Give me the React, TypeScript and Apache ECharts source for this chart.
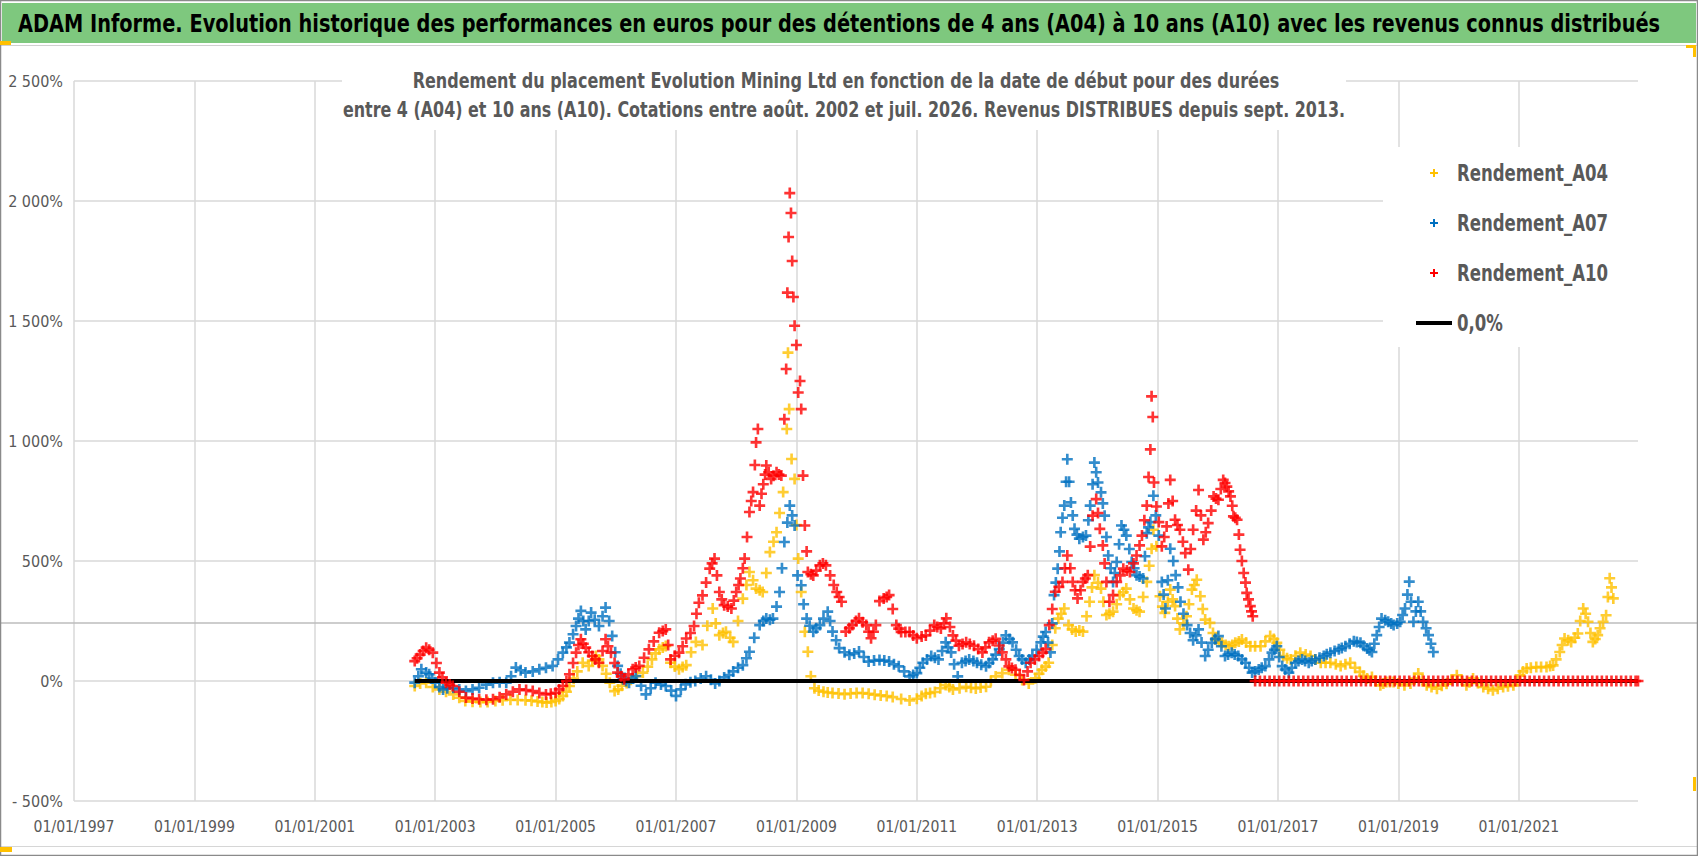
import React, { useEffect, useRef } from 'react';
import * as echarts from 'echarts';

const TITLE =
  'ADAM Informe. Evolution historique des performances en euros pour des détentions de 4 ans (A04) à 10 ans (A10) avec les revenus connus distribués';
const SUBTITLE_1 =
  'Rendement du placement Evolution Mining Ltd en fonction de la date de début pour des durées';
const SUBTITLE_2 =
  'entre 4 (A04) et 10 ans (A10). Cotations entre août. 2002 et juil. 2026. Revenus DISTRIBUES depuis sept. 2013.';

const SERIES_NAMES = ['Rendement_A04', 'Rendement_A07', 'Rendement_A10', '0,0%'];
const SERIES_COLORS = ['#FFC000', '#0070C0', '#FF0000', '#000000'];

// x axis: decimal years, gridlines every 2 years starting 01/01/1997
const X_MIN = 1997;
const X_MAX = 2022.98;
const X_INTERVAL = 2;
// y axis in percent
const Y_MIN = -500;
const Y_MAX = 2500;
const Y_INTERVAL = 500;

// [start date (decimal year), return %]
const a04: [number, number][] = [
  [2002.66, -21], [2002.75, -10], [2002.85, -7], [2002.96, -25], [2003.07, -35], [2003.18, -45],
  [2003.3, -56], [2003.4, -70], [2003.5, -83], [2003.62, -86], [2003.75, -88], [2003.87, -87],
  [2004.0, -83], [2004.12, -80], [2004.25, -78], [2004.37, -79], [2004.5, -80], [2004.6, -82],
  [2004.7, -85], [2004.78, -88], [2004.85, -90], [2004.93, -87], [2005.0, -83], [2005.06, -75],
  [2005.12, -62], [2005.18, -45], [2005.23, -21], [2005.3, 10], [2005.36, 40], [2005.45, 76],
  [2005.55, 63], [2005.61, 85], [2005.67, 104], [2005.72, 90], [2005.78, 63], [2005.84, 30],
  [2005.9, -7], [2005.98, -42], [2006.04, -35], [2006.1, -20], [2006.18, -8], [2006.25, 5],
  [2006.35, 20], [2006.45, 35], [2006.53, 60], [2006.6, 90], [2006.66, 115], [2006.72, 132],
  [2006.78, 140], [2006.83, 146], [2006.91, 76], [2006.98, 60], [2007.05, 49], [2007.11, 58],
  [2007.17, 66], [2007.25, 120], [2007.33, 163], [2007.44, 150], [2007.52, 230], [2007.61, 302],
  [2007.66, 240], [2007.72, 191], [2007.78, 200], [2007.83, 205], [2007.9, 180], [2007.95, 163],
  [2008.03, 250], [2008.11, 343], [2008.17, 400], [2008.22, 454], [2008.28, 420], [2008.33, 385],
  [2008.39, 378], [2008.44, 371], [2008.5, 450], [2008.56, 537], [2008.62, 580], [2008.67, 620],
  [2008.72, 700], [2008.78, 787], [2008.84, 1050], [2008.86, 1368], [2008.88, 1133], [2008.92, 925],
  [2008.97, 842], [2009.0, 650], [2009.03, 510], [2009.08, 371], [2009.14, 205], [2009.19, 122],
  [2009.24, 20], [2009.3, -30], [2009.37, -40], [2009.45, -45], [2009.52, -48], [2009.6, -50],
  [2009.7, -52], [2009.8, -55], [2009.9, -52], [2010.0, -50], [2010.1, -50], [2010.2, -53],
  [2010.3, -57], [2010.4, -60], [2010.5, -63], [2010.6, -67], [2010.74, -75], [2010.88, -81],
  [2011.0, -74], [2011.08, -63], [2011.15, -53], [2011.22, -50], [2011.3, -46], [2011.39, -30],
  [2011.48, -17], [2011.54, -25], [2011.6, -35], [2011.71, -30], [2011.82, -24], [2011.9, -28],
  [2011.98, -31], [2012.06, -27], [2012.15, -24], [2012.23, 0], [2012.31, 19], [2012.42, 33],
  [2012.53, 47], [2012.64, 26], [2012.75, 4], [2012.86, -10], [2012.97, 11], [2013.03, 30],
  [2013.08, 47], [2013.14, 60], [2013.19, 76], [2013.25, 150], [2013.3, 220], [2013.35, 260],
  [2013.4, 280], [2013.45, 302], [2013.52, 233], [2013.58, 215], [2013.64, 206], [2013.7, 210],
  [2013.76, 206], [2013.82, 270], [2013.87, 330], [2013.91, 390], [2013.95, 441], [2014.01, 410],
  [2014.06, 385], [2014.1, 330], [2014.15, 275], [2014.2, 280], [2014.26, 289], [2014.32, 320],
  [2014.37, 358], [2014.43, 370], [2014.48, 385], [2014.54, 340], [2014.6, 302], [2014.65, 295],
  [2014.7, 289], [2014.76, 350], [2014.82, 413], [2014.86, 480], [2014.9, 551], [2014.93, 630],
  [2014.98, 561], [2015.04, 353], [2015.08, 310], [2015.12, 284], [2015.17, 330], [2015.21, 381],
  [2015.25, 340], [2015.29, 312], [2015.33, 260], [2015.37, 215], [2015.43, 240], [2015.48, 270],
  [2015.52, 320], [2015.57, 381], [2015.61, 400], [2015.65, 422], [2015.71, 353], [2015.75, 300],
  [2015.79, 256], [2015.87, 242], [2015.92, 200], [2015.96, 173], [2016.02, 165], [2016.07, 159],
  [2016.13, 150], [2016.18, 145], [2016.24, 150], [2016.29, 159], [2016.35, 165], [2016.4, 173],
  [2016.47, 160], [2016.54, 145], [2016.62, 145], [2016.71, 145], [2016.79, 165], [2016.87, 187],
  [2016.93, 175], [2016.98, 159], [2017.03, 130], [2017.09, 104], [2017.15, 95], [2017.21, 90],
  [2017.29, 105], [2017.37, 118], [2017.46, 110], [2017.54, 104], [2017.62, 90], [2017.71, 76],
  [2017.79, 76], [2017.87, 76], [2017.96, 70], [2018.04, 62], [2018.12, 70], [2018.2, 76],
  [2018.28, 55], [2018.36, 38], [2018.42, 22], [2018.48, 10], [2018.56, 17], [2018.62, 0],
  [2018.7, -18], [2018.75, -10], [2018.8, -4], [2018.86, -4], [2018.92, -4], [2019.0, -10],
  [2019.1, -18], [2019.2, -10], [2019.27, 10], [2019.33, 31], [2019.4, 5], [2019.47, -18],
  [2019.55, -25], [2019.64, -32], [2019.72, -20], [2019.8, -11], [2019.88, 5], [2019.97, 24],
  [2020.05, 5], [2020.13, -18], [2020.18, -5], [2020.24, 10], [2020.32, -8], [2020.41, -25],
  [2020.49, -32], [2020.57, -39], [2020.65, -32], [2020.74, -25], [2020.82, -22], [2020.91, -18],
  [2020.97, 0], [2021.02, 24], [2021.07, 40], [2021.13, 52], [2021.2, 55], [2021.29, 58],
  [2021.37, 58], [2021.46, 58], [2021.52, 62], [2021.57, 65], [2021.62, 90], [2021.68, 121],
  [2021.72, 150], [2021.76, 177], [2021.82, 170], [2021.87, 163], [2021.93, 180], [2021.98, 198],
  [2022.02, 250], [2022.07, 302], [2022.11, 280], [2022.15, 247], [2022.19, 200], [2022.23, 163],
  [2022.27, 175], [2022.31, 191], [2022.35, 220], [2022.4, 247], [2022.45, 274], [2022.48, 350],
  [2022.51, 428], [2022.54, 390], [2022.57, 344],
];

const a07: [number, number][] = [
  [2002.66, -7], [2002.72, 20], [2002.77, 49], [2002.85, 35], [2002.9, 28], [2002.95, 10],
  [2003.0, -7], [2003.07, -25], [2003.13, -35], [2003.2, -30], [2003.3, -28], [2003.4, -35],
  [2003.51, -42], [2003.62, -35], [2003.73, -28], [2003.85, -15], [2003.96, -7], [2004.07, -5],
  [2004.18, -7], [2004.26, 20], [2004.34, 56], [2004.42, 45], [2004.5, 35], [2004.62, 40],
  [2004.73, 49], [2004.84, 55], [2004.95, 63], [2005.04, 90], [2005.12, 118], [2005.18, 140],
  [2005.23, 160], [2005.29, 195], [2005.34, 229], [2005.38, 260], [2005.42, 292], [2005.46, 250],
  [2005.5, 215], [2005.55, 250], [2005.59, 285], [2005.65, 255], [2005.72, 229], [2005.78, 270],
  [2005.83, 306], [2005.89, 250], [2005.94, 188], [2005.99, 120], [2006.03, 63], [2006.08, 30],
  [2006.12, 7], [2006.17, 0], [2006.22, -7], [2006.28, 10], [2006.33, 21], [2006.42, -20],
  [2006.5, -56], [2006.58, -30], [2006.66, -7], [2006.75, -15], [2006.83, -21], [2006.92, -40],
  [2007.0, -62], [2007.08, -35], [2007.16, -14], [2007.24, -5], [2007.32, 0], [2007.41, 10],
  [2007.5, 20], [2007.58, 5], [2007.65, -10], [2007.72, 0], [2007.8, 15], [2007.88, 25],
  [2007.95, 40], [2008.03, 55], [2008.11, 66], [2008.17, 95], [2008.22, 122], [2008.3, 180],
  [2008.39, 233], [2008.45, 250], [2008.5, 260], [2008.56, 255], [2008.61, 260], [2008.67, 310],
  [2008.72, 371], [2008.76, 470], [2008.8, 579], [2008.85, 660], [2008.89, 731], [2008.93, 690],
  [2008.97, 648], [2009.02, 440], [2009.08, 399], [2009.12, 320], [2009.17, 260], [2009.22, 230],
  [2009.28, 205], [2009.33, 220], [2009.39, 233], [2009.45, 260], [2009.52, 289], [2009.56, 250],
  [2009.6, 206], [2009.66, 170], [2009.71, 137], [2009.8, 120], [2009.88, 109], [2009.96, 115],
  [2010.04, 123], [2010.12, 100], [2010.2, 81], [2010.29, 85], [2010.38, 88], [2010.46, 85],
  [2010.54, 81], [2010.62, 70], [2010.7, 61], [2010.79, 40], [2010.88, 19], [2010.94, 25],
  [2011.0, 33], [2011.05, 55], [2011.1, 76], [2011.17, 90], [2011.24, 104], [2011.3, 97],
  [2011.36, 90], [2011.42, 125], [2011.48, 161], [2011.52, 140], [2011.57, 119], [2011.62, 70],
  [2011.68, 19], [2011.75, 76], [2011.81, 83], [2011.87, 90], [2011.94, 83], [2012.0, 76],
  [2012.07, 68], [2012.15, 61], [2012.2, 75], [2012.26, 90], [2012.31, 110], [2012.37, 133],
  [2012.43, 160], [2012.48, 190], [2012.54, 175], [2012.59, 161], [2012.65, 130], [2012.7, 104],
  [2012.75, 90], [2012.81, 76], [2012.87, 90], [2012.92, 104], [2012.99, 130], [2013.06, 161],
  [2013.1, 185], [2013.14, 204], [2013.18, 160], [2013.22, 119], [2013.25, 240], [2013.28, 358],
  [2013.31, 410], [2013.34, 468], [2013.37, 540], [2013.39, 620], [2013.42, 680], [2013.45, 731],
  [2013.48, 830], [2013.5, 924], [2013.53, 830], [2013.56, 744], [2013.59, 690], [2013.62, 634],
  [2013.66, 610], [2013.7, 593], [2013.76, 600], [2013.81, 606], [2013.85, 670], [2013.88, 731],
  [2013.92, 820], [2013.95, 910], [2013.98, 870], [2014.01, 827], [2014.06, 786], [2014.09, 740],
  [2014.12, 689], [2014.15, 600], [2014.18, 523], [2014.22, 470], [2014.26, 413], [2014.29, 450],
  [2014.32, 496], [2014.36, 570], [2014.4, 648], [2014.44, 630], [2014.48, 606], [2014.53, 550],
  [2014.57, 496], [2014.61, 470], [2014.65, 441], [2014.7, 435], [2014.76, 427], [2014.79, 520],
  [2014.82, 616], [2014.85, 640], [2014.88, 662], [2014.93, 772], [2014.97, 690], [2015.02, 606],
  [2015.07, 413], [2015.1, 360], [2015.13, 302], [2015.17, 420], [2015.21, 551], [2015.26, 500],
  [2015.3, 441], [2015.34, 390], [2015.38, 330], [2015.43, 280], [2015.49, 233], [2015.54, 200],
  [2015.59, 170], [2015.64, 190], [2015.68, 215], [2015.73, 160], [2015.79, 104], [2015.84, 130],
  [2015.9, 159], [2015.96, 175], [2016.01, 187], [2016.06, 145], [2016.12, 104], [2016.17, 110],
  [2016.23, 118], [2016.28, 110], [2016.34, 104], [2016.4, 90], [2016.46, 76], [2016.52, 55],
  [2016.57, 35], [2016.62, 40], [2016.68, 48], [2016.73, 55], [2016.79, 62], [2016.85, 90],
  [2016.9, 118], [2016.94, 130], [2016.98, 145], [2017.02, 100], [2017.07, 62], [2017.12, 48],
  [2017.18, 35], [2017.23, 55], [2017.29, 76], [2017.34, 83], [2017.4, 90], [2017.45, 83],
  [2017.51, 76], [2017.56, 83], [2017.62, 90], [2017.69, 97], [2017.76, 104], [2017.81, 111],
  [2017.87, 118], [2017.94, 125], [2018.01, 132], [2018.06, 138], [2018.12, 145], [2018.19, 155],
  [2018.26, 166], [2018.31, 162], [2018.37, 159], [2018.42, 147], [2018.48, 135], [2018.52, 128],
  [2018.56, 121], [2018.6, 155], [2018.64, 191], [2018.68, 225], [2018.72, 260], [2018.78, 253],
  [2018.83, 247], [2018.88, 240], [2018.92, 233], [2018.98, 240], [2019.03, 247], [2019.07, 275],
  [2019.11, 302], [2019.15, 360], [2019.18, 414], [2019.21, 330], [2019.25, 247], [2019.29, 290],
  [2019.33, 330], [2019.37, 290], [2019.41, 247], [2019.46, 220], [2019.5, 191], [2019.54, 155],
  [2019.58, 121],
];

const a10: [number, number][] = [
  [2002.66, 83], [2002.7, 95], [2002.75, 110], [2002.8, 125], [2002.85, 139], [2002.9, 130],
  [2002.96, 118], [2003.02, 75], [2003.07, 35], [2003.12, 15], [2003.18, -7], [2003.24, -15],
  [2003.29, -21], [2003.4, -45], [2003.51, -69], [2003.62, -73], [2003.73, -76], [2003.85, -78],
  [2003.96, -76], [2004.07, -68], [2004.18, -56], [2004.29, -45], [2004.4, -35], [2004.51, -38],
  [2004.62, -42], [2004.73, -50], [2004.84, -56], [2004.92, -53], [2005.0, -49], [2005.06, -35],
  [2005.12, -21], [2005.18, 0], [2005.23, 28], [2005.29, 75], [2005.34, 118], [2005.38, 150],
  [2005.42, 174], [2005.46, 155], [2005.5, 139], [2005.55, 120], [2005.61, 104], [2005.66, 90],
  [2005.72, 76], [2005.78, 125], [2005.83, 174], [2005.87, 145], [2005.92, 118], [2005.98, 75],
  [2006.03, 35], [2006.09, 20], [2006.14, 7], [2006.21, 28], [2006.28, 49], [2006.33, 56],
  [2006.39, 63], [2006.47, 97], [2006.55, 132], [2006.63, 165], [2006.72, 201], [2006.78, 208],
  [2006.83, 215], [2006.87, 150], [2006.91, 90], [2006.98, 105], [2007.05, 118], [2007.11, 145],
  [2007.17, 177], [2007.24, 200], [2007.3, 229], [2007.34, 280], [2007.38, 326], [2007.44, 357],
  [2007.5, 410], [2007.56, 468], [2007.6, 490], [2007.64, 510], [2007.68, 440], [2007.72, 371],
  [2007.76, 340], [2007.8, 316], [2007.86, 310], [2007.92, 302], [2007.96, 335], [2008.0, 371],
  [2008.04, 400], [2008.07, 427], [2008.11, 470], [2008.14, 510], [2008.18, 600], [2008.22, 704],
  [2008.25, 750], [2008.28, 787], [2008.31, 900], [2008.33, 994], [2008.36, 1050], [2008.39, 731],
  [2008.42, 780], [2008.45, 820], [2008.48, 860], [2008.5, 898], [2008.54, 870], [2008.58, 842],
  [2008.62, 855], [2008.67, 870], [2008.71, 860], [2008.75, 856], [2008.8, 1091], [2008.83, 1300],
  [2008.85, 1618], [2008.87, 1850], [2008.89, 2033], [2008.91, 1950], [2008.93, 1750], [2008.95, 1600],
  [2008.97, 1480], [2009.0, 1400], [2009.03, 1202], [2009.06, 1250], [2009.08, 1133], [2009.11, 856],
  [2009.14, 648], [2009.17, 540], [2009.19, 454], [2009.24, 445], [2009.28, 440], [2009.33, 460],
  [2009.39, 482], [2009.44, 490], [2009.49, 482], [2009.56, 440], [2009.62, 400], [2009.67, 371],
  [2009.71, 350], [2009.75, 330], [2009.82, 206], [2009.88, 220], [2009.93, 233], [2009.99, 250],
  [2010.04, 261], [2010.1, 245], [2010.16, 233], [2010.2, 205], [2010.24, 178], [2010.28, 205],
  [2010.32, 233], [2010.38, 333], [2010.45, 344], [2010.5, 350], [2010.54, 358], [2010.6, 300],
  [2010.66, 233], [2010.7, 218], [2010.74, 204], [2010.81, 204], [2010.88, 204], [2010.94, 190],
  [2011.0, 178], [2011.08, 185], [2011.15, 190], [2011.22, 210], [2011.29, 233], [2011.34, 225],
  [2011.4, 219], [2011.45, 240], [2011.49, 261], [2011.55, 225], [2011.6, 190], [2011.65, 168],
  [2011.7, 147], [2011.76, 154], [2011.82, 161], [2011.88, 154], [2011.95, 147], [2012.02, 133],
  [2012.09, 119], [2012.14, 140], [2012.2, 161], [2012.26, 168], [2012.31, 176], [2012.37, 148],
  [2012.42, 119], [2012.48, 90], [2012.53, 61], [2012.58, 54], [2012.64, 47], [2012.71, 25],
  [2012.78, 4], [2012.84, 40], [2012.89, 76], [2012.96, 90], [2013.03, 104], [2013.09, 118],
  [2013.14, 133], [2013.2, 233], [2013.25, 300], [2013.3, 372], [2013.36, 392], [2013.42, 413],
  [2013.46, 470], [2013.5, 523], [2013.55, 470], [2013.59, 413], [2013.63, 378], [2013.67, 344],
  [2013.72, 378], [2013.76, 413], [2013.8, 427], [2013.84, 441], [2013.88, 560], [2013.92, 689],
  [2013.98, 758], [2014.01, 700], [2014.04, 634], [2014.09, 565], [2014.12, 490], [2014.15, 413],
  [2014.2, 330], [2014.26, 358], [2014.32, 413], [2014.38, 440], [2014.43, 468], [2014.49, 460],
  [2014.54, 454], [2014.6, 490], [2014.65, 523], [2014.7, 565], [2014.74, 606], [2014.78, 670],
  [2014.82, 731], [2014.85, 850], [2014.88, 965], [2014.9, 1186], [2014.92, 1100], [2014.94, 827],
  [2014.98, 727], [2015.02, 662], [2015.07, 561], [2015.11, 600], [2015.15, 644], [2015.18, 740],
  [2015.21, 838], [2015.25, 750], [2015.29, 672], [2015.33, 650], [2015.37, 630], [2015.42, 580],
  [2015.46, 533], [2015.51, 464], [2015.55, 550], [2015.59, 630], [2015.64, 710], [2015.68, 796],
  [2015.72, 690], [2015.76, 589], [2015.8, 620], [2015.84, 658], [2015.89, 710], [2015.93, 769],
  [2015.97, 760], [2016.01, 755], [2016.05, 800], [2016.09, 838], [2016.12, 825], [2016.15, 810],
  [2016.18, 790], [2016.21, 769], [2016.24, 730], [2016.26, 686], [2016.29, 680], [2016.32, 672],
  [2016.35, 610], [2016.37, 547], [2016.4, 500], [2016.43, 450], [2016.46, 410], [2016.48, 367],
  [2016.51, 340], [2016.54, 312], [2016.56, 290], [2016.58, 270],
];

// start dates after mid-2016 where A10 is shown at 0 %
const a10ZeroYears: number[] = [
  2016.62, 2016.7, 2016.78, 2016.86, 2016.94, 2017.02, 2017.1, 2017.18, 2017.26, 2017.34,
  2017.42, 2017.5, 2017.58, 2017.66, 2017.74, 2017.82, 2017.9, 2017.98, 2018.06, 2018.14,
  2018.22, 2018.3, 2018.38, 2018.46, 2018.54, 2018.62, 2018.7, 2018.78, 2018.86, 2018.94,
  2019.02, 2019.1, 2019.18, 2019.26, 2019.34, 2019.42, 2019.5, 2019.58, 2019.66, 2019.74,
  2019.82, 2019.9, 2019.98, 2020.06, 2020.14, 2020.22, 2020.3, 2020.38, 2020.46, 2020.54,
  2020.62, 2020.7, 2020.78, 2020.86, 2020.94, 2021.02, 2021.1, 2021.18, 2021.26, 2021.34,
  2021.42, 2021.5, 2021.58, 2021.66, 2021.74, 2021.82, 2021.9, 2021.98, 2022.06, 2022.14,
  2022.22, 2022.3, 2022.38, 2022.46, 2022.54, 2022.62, 2022.7, 2022.78, 2022.86, 2022.94, 2022.98,
];

// the 0,0 % reference line
const zeroLine: [number, number][] = [[2002.66, 0], [2022.98, 0]];

const PLUS = 'path://M3.8,0H6.2V3.8H10V6.2H6.2V10H3.8V6.2H0V3.8H3.8Z';
const FONT = "'DejaVu Sans Condensed', 'Liberation Sans Narrow', 'DejaVu Sans', sans-serif";

function fmtThousands(v: number): string {
  const s = String(Math.abs(v));
  return s.replace(/\B(?=(\d{3})+(?!\d))/g, ' ');
}

function txt(text: string, x: number, y: number, size: number, color: string, align: string, scaleY: number, weight = 'bold') {
  return {
    type: 'text',
    x,
    y,
    scaleY,
    z: 40,
    silent: true,
    style: {
      text,
      x: 0,
      y: 0,
      fill: color,
      fontFamily: FONT,
      fontSize: size,
      fontWeight: weight,
      align,
      textAlign: align,
      verticalAlign: 'middle',
      textVerticalAlign: 'middle',
    },
  };
}

function plusMark(cx: number, cy: number, color: string) {
  return {
    type: 'polygon',
    z: 40,
    silent: true,
    shape: {
      points: [
        [cx - 1, cy - 4], [cx + 1, cy - 4], [cx + 1, cy - 1], [cx + 4, cy - 1], [cx + 4, cy + 1],
        [cx + 1, cy + 1], [cx + 1, cy + 4], [cx - 1, cy + 4], [cx - 1, cy + 1], [cx - 4, cy + 1],
        [cx - 4, cy - 1], [cx - 1, cy - 1],
      ],
    },
    style: { fill: color },
  };
}

export default function App() {
  const ref = useRef<HTMLDivElement>(null);

  useEffect(() => {
    document.body.style.margin = '0';
    if (!ref.current) return;
    const chart = echarts.init(ref.current, undefined, { renderer: 'svg' });

    const a10Data: [number, number][] = [...a10, ...a10ZeroYears.map((y) => [y, 0] as [number, number])];

    const legendRows = [173, 223, 273, 323];

    const option: any = {
      animation: false,
      backgroundColor: '#ffffff',
      textStyle: { fontFamily: FONT },
      grid: { left: 74, right: 60, top: 81, bottom: 55, containLabel: false },
      xAxis: {
        type: 'value',
        min: X_MIN,
        max: X_MAX,
        interval: X_INTERVAL,
        axisLine: { show: false },
        axisTick: { show: false },
        splitLine: { show: true, showMaxLine: false, lineStyle: { color: '#d9d9d9', width: 1.5 } },
        axisLabel: {
          margin: 18,
          showMaxLabel: false,
          fontFamily: FONT,
          fontSize: 15.6,
          color: '#595959',
          formatter: (v: number) => '01/01/' + Math.round(v),
        },
      },
      yAxis: {
        type: 'value',
        min: Y_MIN,
        max: Y_MAX,
        interval: Y_INTERVAL,
        axisLine: { show: false },
        axisTick: { show: false },
        splitLine: { show: true, lineStyle: { color: '#d9d9d9', width: 1.5 } },
        axisLabel: {
          margin: 11,
          fontFamily: FONT,
          fontSize: 16,
          color: '#595959',
          formatter: (v: number) =>
            v === 0 ? '0%' : v < 0 ? '- ' + fmtThousands(v) + '%' : fmtThousands(v) + '%',
        },
      },
      graphic: [
        // title bar
        { type: 'rect', z: 0, silent: true, shape: { x: 2, y: 3, width: 1694, height: 40 }, style: { fill: '#7EC87E' } },
        { type: 'line', z: 0, silent: true, shape: { x1: 1, y1: 45.5, x2: 1697, y2: 45.5 }, style: { stroke: '#d0d0d0', lineWidth: 1 } },
        txt(TITLE, 18, 23, 21.5, '#000000', 'left', 1.18),
        // stray horizontal rule across the chart area
        { type: 'line', z: 1, silent: true, shape: { x1: 1, y1: 623, x2: 1697, y2: 623 }, style: { stroke: '#bdbdbd', lineWidth: 1.5 } },
        { type: 'line', z: 0, silent: true, shape: { x1: 1, y1: 846.5, x2: 1697, y2: 846.5 }, style: { stroke: '#d6d6d6', lineWidth: 1 } },
        // subtitle box
        { type: 'rect', z: 30, silent: true, shape: { x: 342, y: 62, width: 1004, height: 68 }, style: { fill: '#ffffff' } },
        txt(SUBTITLE_1, 846, 81, 17.8, '#595959', 'center', 1.2),
        txt(SUBTITLE_2, 844, 110, 17.7, '#595959', 'center', 1.2),
        // legend
        { type: 'rect', z: 30, silent: true, shape: { x: 1383, y: 147, width: 257, height: 200 }, style: { fill: '#ffffff' } },
        plusMark(1434, legendRows[0], SERIES_COLORS[0]),
        plusMark(1434, legendRows[1], SERIES_COLORS[1]),
        plusMark(1434, legendRows[2], SERIES_COLORS[2]),
        { type: 'rect', z: 40, silent: true, shape: { x: 1416, y: legendRows[3] - 2, width: 36, height: 4 }, style: { fill: SERIES_COLORS[3] } },
        txt(SERIES_NAMES[0], 1457, legendRows[0], 18.4, '#595959', 'left', 1.27),
        txt(SERIES_NAMES[1], 1457, legendRows[1], 18.4, '#595959', 'left', 1.27),
        txt(SERIES_NAMES[2], 1457, legendRows[2], 18.4, '#595959', 'left', 1.27),
        txt(SERIES_NAMES[3], 1457, legendRows[3], 18.4, '#595959', 'left', 1.27),
        // frame and selection handles
        { type: 'rect', z: 50, silent: true, shape: { x: 0.5, y: 0.5, width: 1697, height: 855 }, style: { fill: 'none', stroke: '#8a8a8a', lineWidth: 1.5 } },
        { type: 'rect', z: 50, silent: true, shape: { x: 0, y: 41, width: 11, height: 4 }, style: { fill: '#FFC000' } },
        { type: 'rect', z: 50, silent: true, shape: { x: 1686, y: 45, width: 10, height: 3 }, style: { fill: '#FFC000' } },
        { type: 'rect', z: 50, silent: true, shape: { x: 1693, y: 45, width: 3, height: 12 }, style: { fill: '#FFC000' } },
        { type: 'rect', z: 50, silent: true, shape: { x: 1693, y: 777, width: 3, height: 14 }, style: { fill: '#FFC000' } },
        { type: 'rect', z: 50, silent: true, shape: { x: 0, y: 847, width: 12, height: 5 }, style: { fill: '#FFC000' } },
      ],
      series: [
        {
          name: SERIES_NAMES[0],
          type: 'scatter',
          symbol: PLUS,
          symbolSize: 11,
          itemStyle: { color: SERIES_COLORS[0] },
          data: a04,
          z: 2,
          silent: true,
        },
        {
          name: SERIES_NAMES[1],
          type: 'scatter',
          symbol: PLUS,
          symbolSize: 11,
          itemStyle: { color: SERIES_COLORS[1] },
          data: a07,
          z: 3,
          silent: true,
        },
        {
          name: SERIES_NAMES[3],
          type: 'line',
          symbol: 'none',
          lineStyle: { color: SERIES_COLORS[3], width: 4 },
          itemStyle: { color: SERIES_COLORS[3] },
          data: zeroLine,
          z: 4,
          silent: true,
        },
        {
          name: SERIES_NAMES[2],
          type: 'scatter',
          symbol: PLUS,
          symbolSize: 11,
          itemStyle: { color: SERIES_COLORS[2] },
          data: a10Data,
          z: 5,
          silent: true,
        },
      ],
    };

    chart.setOption(option);
    return () => {
      chart.dispose();
    };
  }, []);

  return <div ref={ref} style={{ width: 1698, height: 856 }} />;
}
